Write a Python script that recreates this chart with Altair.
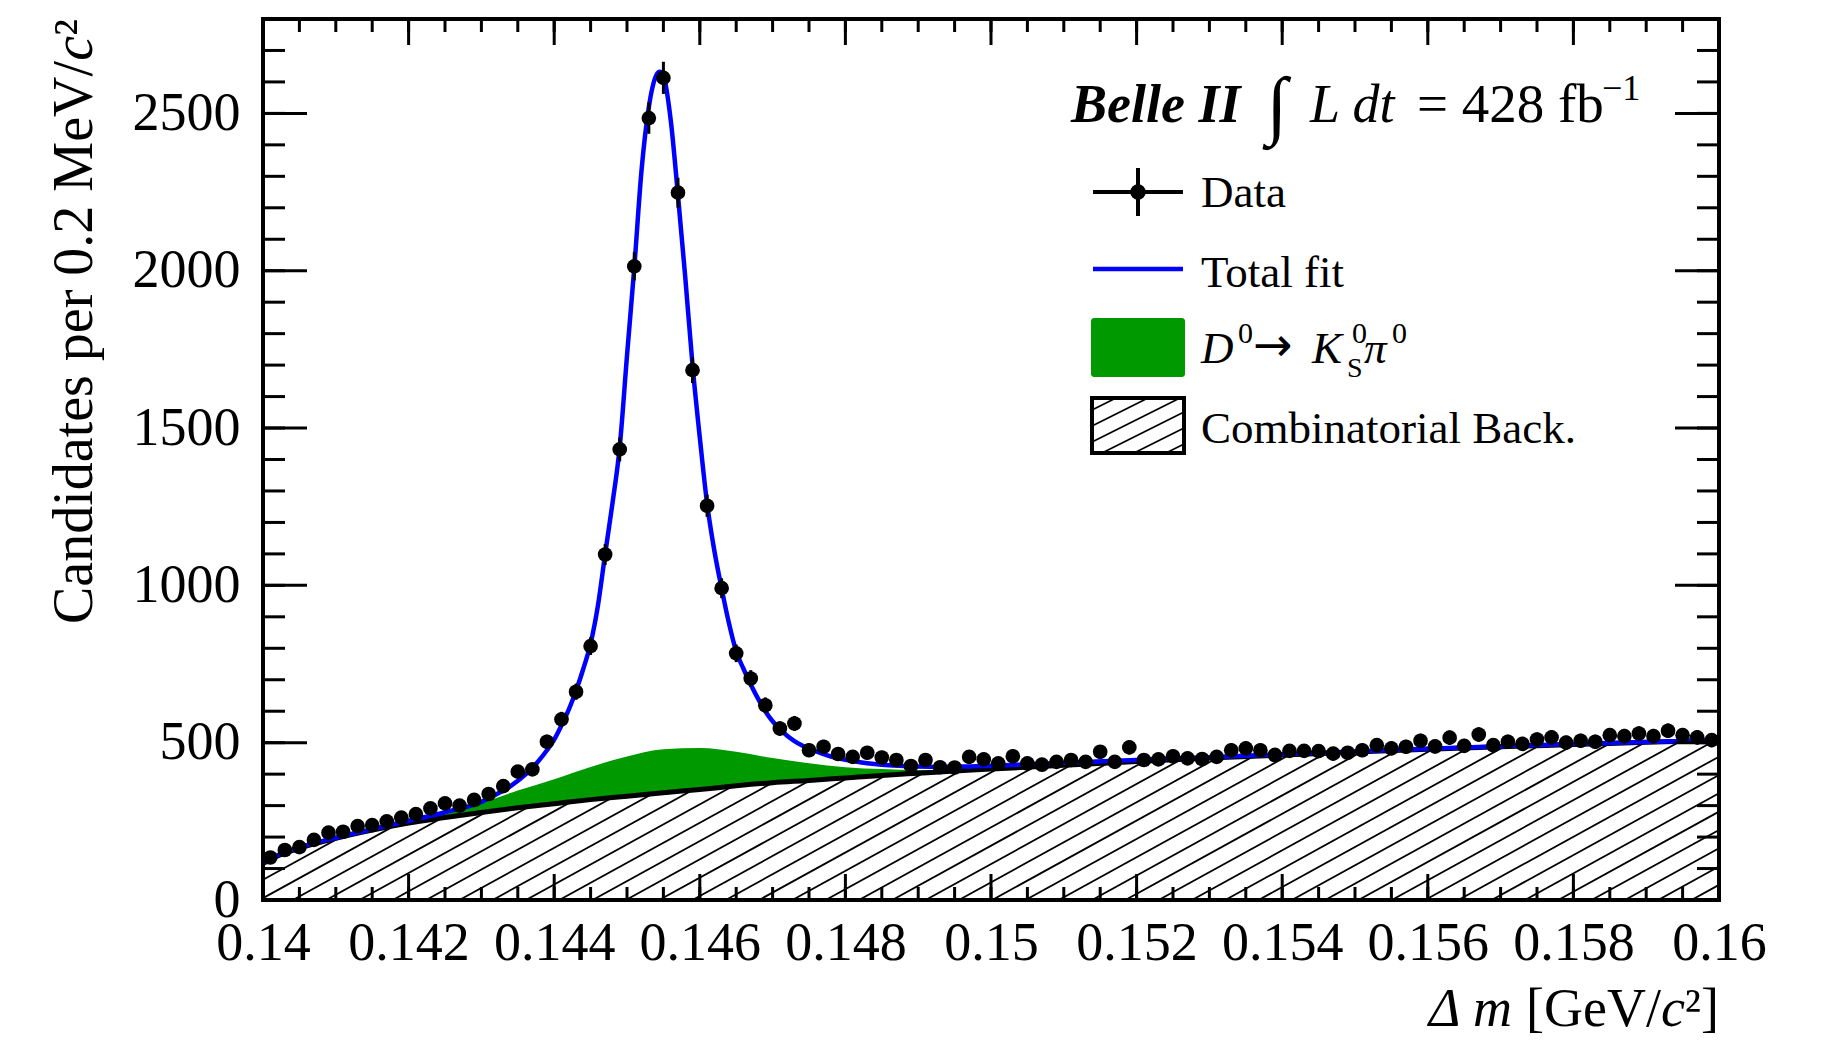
import altair as alt
import pandas as pd
import numpy as np

# ---------------- data ----------------
bin_centers = [round(0.1401 + 0.0002 * i, 4) for i in range(100)]
counts = [
    135, 159, 168, 191, 214, 217, 235, 238, 250, 262,
    273, 291, 307, 300, 318, 337, 362, 408, 415, 503,
    574, 662, 807, 1098, 1432, 2014, 2485, 2613, 2248, 1684,
    1253, 991, 784, 704, 619, 545, 561, 476, 487, 464,
    455, 468, 453, 445, 426, 445, 422, 421, 455, 447,
    434, 457, 434, 430, 439, 445, 439, 471, 439, 485,
    445, 447, 457, 450, 448, 455, 476, 482, 476, 461,
    474, 474, 473, 465, 468, 476, 492, 482, 487, 506,
    488, 516, 490, 526, 492, 503, 496, 510, 517, 500,
    506, 503, 524, 521, 529, 521, 538, 524, 517, 508,
]

bg_x = [0.1400, 0.1402, 0.1405, 0.1410, 0.1415, 0.1420, 0.1425, 0.1430, 0.1435,
        0.1440, 0.1445, 0.1450, 0.1455, 0.1460, 0.1465, 0.1470, 0.1475, 0.1480,
        0.1485, 0.1490, 0.1495, 0.1500, 0.1510, 0.1520, 0.1530, 0.1540, 0.1550,
        0.1560, 0.1570, 0.1580, 0.1590, 0.1600]
bg_y = [116, 140, 165, 196, 222, 245, 262, 278, 293,
        306, 319, 330, 341, 351, 363, 373, 380, 388,
        396, 403, 410, 416, 428, 440, 451, 461, 470,
        479, 487, 494, 501, 508]
sig_y = [0, 0, 0, 0, 2, 6, 14, 30, 55,
         78, 104, 126, 138, 132, 108, 78, 55, 34,
         20, 10, 5, 2, 0, 0, 0, 0, 0,
         0, 0, 0, 0, 0]

fit_x = [0.1400, 0.1402, 0.1405, 0.1410, 0.1415, 0.1420, 0.1425, 0.1430, 0.1432,
         0.1434, 0.1436, 0.1437, 0.1438, 0.1439, 0.1440, 0.1441, 0.1442, 0.1443,
         0.1444, 0.1445, 0.1446, 0.1447, 0.1448, 0.1449, 0.1450, 0.1451, 0.1452,
         0.1453, 0.1454, 0.14545, 0.1455, 0.1456, 0.1457, 0.1458, 0.1459, 0.1460,
         0.1461, 0.1462, 0.1463, 0.1464, 0.1465, 0.1466, 0.1467, 0.1468, 0.1469,
         0.1470, 0.1471, 0.1472, 0.1473, 0.1474, 0.1475, 0.1476, 0.1478, 0.1480,
         0.1482, 0.1484, 0.1486, 0.1488, 0.1490, 0.1493, 0.1496, 0.1500, 0.1505,
         0.1510, 0.1520, 0.1530, 0.1540, 0.1550, 0.1560, 0.1570, 0.1580, 0.1590,
         0.1600]
fit_y = [118, 142, 167, 198, 225, 252, 279, 312, 335,
         362, 398, 420, 446, 476, 510, 555, 605, 665,
         735, 815, 935, 1100, 1260, 1440, 1730, 2010, 2320,
         2520, 2620, 2632, 2620, 2480, 2240, 1980, 1700, 1470,
         1260, 1110, 990, 880, 790, 735, 685, 640, 600,
         568, 543, 522, 505, 492, 482, 472, 456, 446,
         438, 432, 428, 426, 424, 423, 424, 427, 431,
         436, 445, 454, 463, 472, 481, 489, 496, 502,
         508]

x_major = [0.14, 0.142, 0.144, 0.146, 0.148, 0.15, 0.152, 0.154, 0.156, 0.158, 0.16]
x_minor = [round(0.14 + 0.0005 * i, 4) for i in range(41)]
y_major = [0, 500, 1000, 1500, 2000, 2500]
y_minor = list(range(0, 2801, 100))

# ---------------- layout / style ----------------
W, H = 1456, 881
OX, OY = 263, 19          # plot origin in page pixels
FONT = "Liberation Serif"
xs = alt.Scale(domain=[0.14, 0.16], nice=False, zero=False)
ys = alt.Scale(domain=[0, 2800], nice=False, zero=False)
xa = alt.Axis(values=x_major, format=".3~f", labelPadding=16, title=None,
              labelOverlap=False, labelFlush=False)
ya = alt.Axis(values=y_major, format="d", labelPadding=23, title=None,
              labelOverlap=False, labelFlush=False)


def X(f):
    return alt.X(f, type="quantitative", scale=xs, axis=xa)


def Y(f):
    return alt.Y(f, type="quantitative", scale=ys, axis=ya)


one = pd.DataFrame({"a": [0]})

data_df = pd.DataFrame({"x": bin_centers, "n": counts})
bg_df = pd.DataFrame({"x": bg_x, "bg": bg_y, "sig": sig_y})
fit_df = pd.DataFrame({"x": fit_x, "f": fit_y})

# hatch pattern (style): lines of fixed pixel slope, masked above the background curve
px_per_x = W / 0.02
px_per_y = H / 2800
slope_px = 0.55
kk = slope_px * px_per_x / px_per_y
dxl = 2800 / kk
sp = 33.3 / px_per_x
x0s = np.arange(0.14 - dxl - sp, 0.16 + sp, sp)
hatch_df = pd.DataFrame({"x": x0s, "x2": x0s + dxl, "y": 0.0, "y2": 2800.0})

layers = []
layers.append(alt.Chart(hatch_df).mark_rule(color="black", strokeWidth=1.8, clip=True).encode(
    x=X("x"), x2="x2", y=Y("y"), y2="y2"))
# white mask above the background curve
layers.append(alt.Chart(bg_df).mark_area(color="white", opacity=1, interpolate="monotone", clip=True).encode(
    x=X("x"), y=Y("bg"), y2=alt.datum(2800)))
# green component
layers.append(alt.Chart(bg_df).transform_calculate(top="datum.bg + datum.sig").mark_area(
    color="#009900", opacity=1, interpolate="monotone", clip=True).encode(
    x=X("x"), y=Y("bg"), y2="top:Q"))
# background line
layers.append(alt.Chart(bg_df).mark_line(color="black", strokeWidth=5, interpolate="monotone", clip=True).encode(
    x=X("x"), y=Y("bg")))
# total fit
layers.append(alt.Chart(fit_df).mark_line(color="#0000ff", strokeWidth=4.5, interpolate="monotone", clip=True).encode(
    x=X("x"), y=Y("f")))
# data error bars and points
layers.append(alt.Chart(data_df).transform_calculate(
    lo="datum.n - sqrt(datum.n)", hi="datum.n + sqrt(datum.n)").mark_rule(
    color="black", strokeWidth=3, clip=True).encode(x=X("x"), y=Y("lo:Q"), y2="hi:Q"))
layers.append(alt.Chart(data_df).mark_circle(color="black", size=215, opacity=1, clip=True).encode(
    x=X("x"), y=Y("n")))

# inward ticks
xmaj = pd.DataFrame({"x": x_major})
xmin = pd.DataFrame({"x": x_minor})
ymaj = pd.DataFrame({"y": y_major})
ymin = pd.DataFrame({"y": y_minor})
TW = 3
layers += [
    alt.Chart(xmaj).mark_rule(color="black", strokeWidth=TW).encode(x=X("x"), y=alt.value(H), y2=alt.value(H - 26)),
    alt.Chart(xmin).mark_rule(color="black", strokeWidth=TW).encode(x=X("x"), y=alt.value(H), y2=alt.value(H - 13)),
    alt.Chart(xmaj).mark_rule(color="black", strokeWidth=TW).encode(x=X("x"), y=alt.value(0), y2=alt.value(26)),
    alt.Chart(xmin).mark_rule(color="black", strokeWidth=TW).encode(x=X("x"), y=alt.value(0), y2=alt.value(13)),
    alt.Chart(ymaj).mark_rule(color="black", strokeWidth=TW).encode(y=Y("y"), x=alt.value(0), x2=alt.value(44)),
    alt.Chart(ymin).mark_rule(color="black", strokeWidth=TW).encode(y=Y("y"), x=alt.value(0), x2=alt.value(22)),
    alt.Chart(ymaj).mark_rule(color="black", strokeWidth=TW).encode(y=Y("y"), x=alt.value(W), x2=alt.value(W - 44)),
    alt.Chart(ymin).mark_rule(color="black", strokeWidth=TW).encode(y=Y("y"), x=alt.value(W), x2=alt.value(W - 22)),
]
# frame
FW = 4
layers += [
    alt.Chart(one).mark_rule(color="black", strokeWidth=FW).encode(x=alt.value(-2), x2=alt.value(W + 2), y=alt.value(0)),
    alt.Chart(one).mark_rule(color="black", strokeWidth=FW).encode(x=alt.value(-2), x2=alt.value(W + 2), y=alt.value(H)),
    alt.Chart(one).mark_rule(color="black", strokeWidth=FW).encode(y=alt.value(-2), y2=alt.value(H + 2), x=alt.value(0)),
    alt.Chart(one).mark_rule(color="black", strokeWidth=FW).encode(y=alt.value(-2), y2=alt.value(H + 2), x=alt.value(W)),
]


def txt(s, x, y, size, style="normal", weight="normal", align="left", angle=0, font=FONT):
    return alt.Chart(one).mark_text(
        text=s, font=font, fontSize=size, fontStyle=style, fontWeight=weight,
        align=align, baseline="alphabetic", angle=angle, color="black"
    ).encode(x=alt.value(x), y=alt.value(y))


# axis titles
layers += [
    txt("Candidates per 0.2 MeV/", -171, 42, 56, align="right", angle=270),
    txt("c", -171, 17, 56, style="italic", align="right", angle=270),
    txt("\u00b2", -171, 0, 56, align="right", angle=270),
    txt("\u0394 m", 1512 - OX, 1026 - OY, 54, style="italic", align="right"),
    txt("\u00b2]", W, 1026 - OY, 54, align="right"),
    txt("c", W - 34, 1026 - OY, 54, style="italic", align="right"),
    txt("[GeV/", W - 58, 1026 - OY, 54, align="right"),
]

# header
layers += [
    txt("Belle II", 1071 - OX, 122 - OY, 54, style="italic", weight="bold"),
    txt("\u222b", 1277 - OX, 130 - OY, 76, align="center"),
    txt("L dt", 1310 - OX, 122 - OY, 54, style="italic"),
    txt("= 428 fb", 1417 - OX, 122 - OY, 55),
    txt("\u22121", 1602 - OX, 100 - OY, 36),
]

# legend
LX = 1201 - OX
layers += [
    alt.Chart(one).mark_rule(color="black", strokeWidth=4).encode(x=alt.value(830), x2=alt.value(920), y=alt.value(173)),
    alt.Chart(one).mark_rule(color="black", strokeWidth=4).encode(x=alt.value(875), y=alt.value(149), y2=alt.value(197)),
    alt.Chart(one).mark_circle(color="black", size=240, opacity=1).encode(x=alt.value(875), y=alt.value(173)),
    txt("Data", LX, 188, 45),
    alt.Chart(one).mark_rule(color="#0000ff", strokeWidth=4.5).encode(x=alt.value(830), x2=alt.value(920), y=alt.value(250)),
    txt("Total fit", LX, 268, 45),
    alt.Chart(one).mark_rect(color="#009900", cornerRadius=3).encode(
        x=alt.value(828), x2=alt.value(922), y=alt.value(299), y2=alt.value(358)),
    txt("D", LX, 344, 45, style="italic"),
    txt("0", 975, 324, 30),
    txt("\u2192", 990, 342, 47, font="DejaVu Sans"),
    txt("K", 1049, 344, 45, style="italic"),
    txt("0", 1089, 324, 30),
    txt("S", 1084, 358, 28),
    txt("\u03c0", 1101, 344, 45, style="italic"),
    txt("0", 1129, 324, 30),
    txt("Combinatorial Back.", LX, 424, 45),
]
# hatched legend box
bx0, bx1, by0, by1 = 829, 921, 379, 434
segs = []
s = 0.5
for c in np.arange(by0 + 12, by1 + s * (bx1 - bx0), 16.0):
    xa_ = bx0
    ya_ = c
    if ya_ > by1:
        xa_ = bx0 + (c - by1) / s
        ya_ = by1
    xb_ = bx1
    yb_ = c - s * (bx1 - bx0)
    if yb_ < by0:
        xb_ = bx0 + (c - by0) / s
        yb_ = by0
    if xa_ < xb_:
        segs.append((xa_, ya_, xb_, yb_))
for (a1, b1, a2, b2) in segs:
    layers.append(alt.Chart(one).mark_rule(color="black", strokeWidth=1.8).encode(
        x=alt.value(a1), y=alt.value(b1), x2=alt.value(a2), y2=alt.value(b2)))
layers.append(alt.Chart(one).mark_rect(fill="white", fillOpacity=0, stroke="black", strokeWidth=4).encode(
    x=alt.value(bx0), x2=alt.value(bx1), y=alt.value(by0), y2=alt.value(by1)))

chart = alt.layer(*layers).properties(
    width=W, height=H,
    padding={"left": OX, "top": OY, "right": 1834 - OX - W, "bottom": 1041 - OY - H},
    autosize=alt.AutoSizeParams(type="none"),
    background="white",
).configure_view(stroke=None).configure_axis(
    labelFont=FONT, labelFontSize=54, labelColor="black",
    ticks=False, domain=False, grid=False,
)

chart.save("out.html", embed_options={"renderer": "svg", "actions": False})
